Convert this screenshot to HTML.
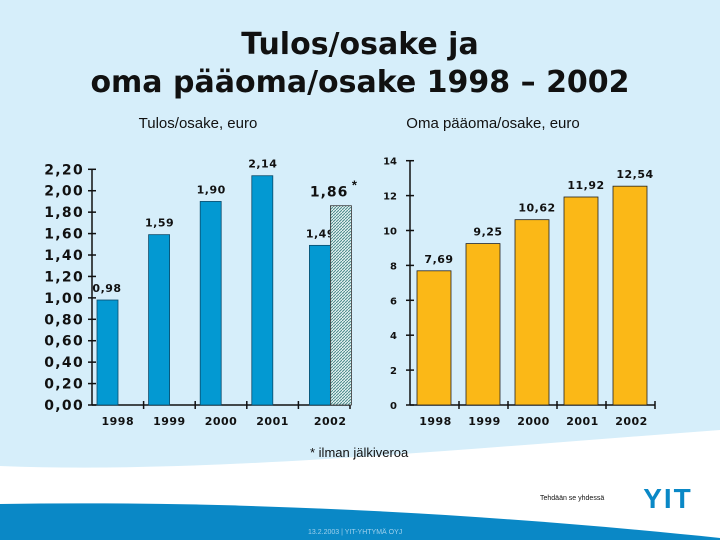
<!DOCTYPE html>
<html><head><meta charset="utf-8"><style>
html,body{margin:0;padding:0}
body{width:720px;height:540px;overflow:hidden;background:#d6eefa;font-family:"Liberation Sans",sans-serif}
svg{display:block}
.w{font-family:"DejaVu Sans","Liberation Sans",sans-serif}
</style></head><body>
<svg width="720" height="540" viewBox="0 0 720 540">
<defs>
<pattern id="hatch" width="3" height="3" patternUnits="userSpaceOnUse">
<rect width="3" height="3" fill="#e6f2f2"/><path d="M0,3 L3,0" stroke="#4a8a8a" stroke-width="1"/>
</pattern>
</defs>
<rect width="720" height="540" fill="#d6eefa"/>
<path d="M0,466 C200,474 450,450 720,430 L720,540 L0,540 Z" fill="#ffffff"/>
<path d="M0,504 C250,500 500,515 720,538 L720,540 L0,540 Z" fill="#0a88c6"/>
<text class="w" x="360" y="54" text-anchor="middle" font-size="30" font-weight="bold" fill="#111">Tulos/osake ja</text>
<text class="w" x="360" y="92" text-anchor="middle" font-size="30" font-weight="bold" fill="#111">oma pääoma/osake 1998 – 2002</text>
<text x="198" y="128" text-anchor="middle" font-size="15" fill="#111">Tulos/osake, euro</text>
<text x="493" y="128" text-anchor="middle" font-size="15" fill="#111">Oma pääoma/osake, euro</text>
<g id="left"></g>
<g id="right"></g>
<text x="310" y="457" font-size="13" fill="#111">* ilman jälkiveroa</text>
<text x="540" y="500" font-size="7" fill="#111">Tehdään se yhdessä</text>
<text x="668" y="508" text-anchor="middle" font-size="28" font-weight="bold" fill="#0a88c6" letter-spacing="2">YIT</text>
<text x="308" y="534" font-size="7" fill="#9fd0ec">13.2.2003  |  YIT-YHTYMÄ OYJ</text>
</svg>
<script>
const years=["1998","1999","2000","2001","2002"];
const eps=[0.98,1.59,1.90,2.14,1.49];
const epsAdj=1.86;
const epsLabels=["0,98","1,59","1,90","2,14","1,49"];
const epsTicks=["0,00","0,20","0,40","0,60","0,80","1,00","1,20","1,40","1,60","1,80","2,00","2,20"];
const equity=[7.69,9.25,10.62,11.92,12.54];
const equityLabels=["7,69","9,25","10,62","11,92","12,54"];
const equityTicks=["0","2","4","6","8","10","12","14"];
const NS="http://www.w3.org/2000/svg";
const FF='"DejaVu Sans","Liberation Sans",sans-serif';
function mk(p,t,a){const e=document.createElementNS(NS,t);for(const k in a)e.setAttribute(k,a[k]);p.appendChild(e);return e;}
(function(){
 const g=document.getElementById('left');
 const x0=92,x1=350,y0=405,ytop=169.3,max=2.2;
 const y=v=>y0-(v/max)*(y0-ytop);
 const cw=(x1-x0)/years.length;
 mk(g,'line',{x1:x0,y1:y0,x2:x0,y2:ytop,stroke:'#111','stroke-width':1.5});
 mk(g,'line',{x1:x0,y1:y0,x2:x1,y2:y0,stroke:'#111','stroke-width':1.5});
 epsTicks.forEach((t,i)=>{const v=i*0.2,yy=y(v);
  const l=mk(g,'line',{x1:x0-4,y1:yy,x2:x0+4,y2:yy,stroke:'#111','stroke-width':1.5});
  
  const tx=mk(g,'text',{x:x0-8,y:yy+5,'text-anchor':'end','font-size':14,'font-weight':'bold','letter-spacing':1.3,'font-family':FF,fill:'#111'});tx.textContent=t;
  });
 years.forEach((yr,i)=>{
  const tk=mk(g,'line',{x1:x0+cw*(i+1),y1:y0-4,x2:x0+cw*(i+1),y2:y0+4,stroke:'#111','stroke-width':1.5});
  
  const lb=mk(g,'text',{x:x0+cw*(i+0.5)+(i==4?6:0),y:425,'text-anchor':'middle','font-size':11,'font-weight':'bold','font-family':FF,'letter-spacing':0.5,fill:'#111'});lb.textContent=yr;
  
  const bx=i==4?x0+cw*i+11:x0+cw*i+5;
  const r=mk(g,'rect',{x:bx,y:y(eps[i]),width:21,height:y0-y(eps[i]),fill:'#0399d2',stroke:'#0a4a6a','stroke-width':0.8});
  
  const vl=mk(g,'text',{x:i==0?bx+10:bx+11,y:y(eps[i])-8,'text-anchor':'middle','font-size':11,'font-weight':'bold','font-family':FF,'letter-spacing':0.5,fill:'#111'});vl.textContent=epsLabels[i];
  
 });
 const hx=x0+cw*4+32;
 const h=mk(g,'rect',{x:hx,y:y(epsAdj),width:21,height:y0-y(epsAdj),fill:'url(#hatch)',stroke:'#333','stroke-width':0.8});
 
 const hl=mk(g,'text',{x:hx+18,y:y(epsAdj)-9,'text-anchor':'end','font-size':14,'font-weight':'bold','font-family':FF,'letter-spacing':1,fill:'#111'});hl.textContent='1,86';
 
 const st=mk(g,'text',{x:hx+24,y:y(epsAdj)-16,'text-anchor':'middle','font-size':13,'font-weight':'bold',fill:'#111'});st.textContent='*';
 
})();
(function(){
 const g=document.getElementById('right');
 const x0=410,x1=655,y0=405,ytop=160.7,max=14;
 const y=v=>y0-(v/max)*(y0-ytop);
 const cw=(x1-x0)/years.length;
 mk(g,'line',{x1:x0,y1:y0,x2:x0,y2:ytop,stroke:'#111','stroke-width':1.5});
 mk(g,'line',{x1:x0,y1:y0,x2:x1,y2:y0,stroke:'#111','stroke-width':1.5});
 equityTicks.forEach((t,i)=>{const yy=y(i*2);
  const l=mk(g,'line',{x1:x0-4,y1:yy,x2:x0+4,y2:yy,stroke:'#111','stroke-width':1.5});
  
  const tx=mk(g,'text',{x:x0-13,y:yy+4,'text-anchor':'end','font-size':10,'font-weight':'bold','font-family':FF,fill:'#111'});tx.textContent=t;
  });
 years.forEach((yr,i)=>{
  const tk=mk(g,'line',{x1:x0+cw*(i+1),y1:y0-4,x2:x0+cw*(i+1),y2:y0+4,stroke:'#111','stroke-width':1.5});
  
  const lb=mk(g,'text',{x:x0+cw*(i+0.5)+1,y:425,'text-anchor':'middle','font-size':11,'font-weight':'bold','font-family':FF,'letter-spacing':0.5,fill:'#111'});lb.textContent=yr;
  
  const bx=x0+cw*i+7;
  const r=mk(g,'rect',{x:bx,y:y(equity[i]),width:34,height:y0-y(equity[i]),fill:'#fbb817',stroke:'#222','stroke-width':0.8});
  
  const vl=mk(g,'text',{x:bx+22,y:y(equity[i])-8,'text-anchor':'middle','font-size':11,'font-weight':'bold','font-family':FF,'letter-spacing':0.5,fill:'#111'});vl.textContent=equityLabels[i];
  
 });
})();
</script>
</body></html>
